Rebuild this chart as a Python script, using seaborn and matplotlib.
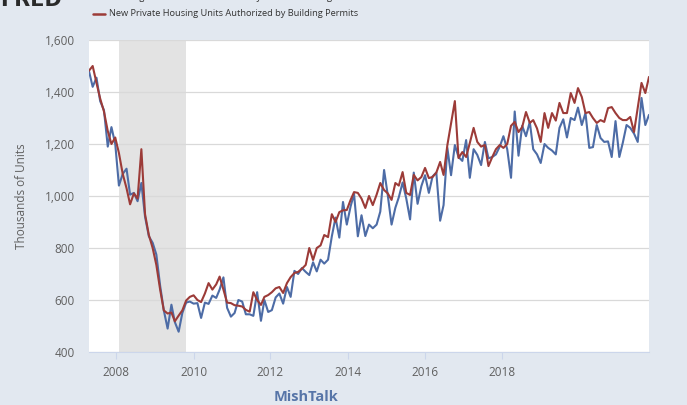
import numpy as np
import pandas as pd
import matplotlib
matplotlib.use('Agg')
import matplotlib.pyplot as plt
import seaborn as sns
from matplotlib.lines import Line2D
from matplotlib.ticker import FuncFormatter

# Monthly values, thousands of units, Apr 2007 .. Oct 2019
first_month = '2007-04-01'
last_month = '2019-10-01'

housing_starts = [
    1480, 1420, 1455, 1365, 1330, 1190, 1265, 1200, 1040,                  # 2007 Apr-Dec
    1085, 1105, 1005, 1012, 980, 1050, 920, 845, 820, 775, 655, 560,       # 2008
    490, 582, 515, 478, 550, 590, 594, 586, 588, 531, 590, 585,            # 2009
    617, 608, 640, 687, 570, 536, 550, 600, 594, 545, 545, 539,            # 2010
    630, 520, 600, 554, 561, 610, 625, 586, 650, 612, 712, 700,            # 2011
    723, 708, 696, 745, 710, 755, 740, 755, 845, 917, 840, 977,            # 2012
    890, 960, 1008, 845, 926, 846, 890, 876, 890, 940, 1100, 1003,         # 2013
    890, 955, 995, 1052, 990, 910, 1090, 970, 1038, 1080, 1012, 1075,      # 2014
    1090, 905, 965, 1185, 1080, 1196, 1150, 1135, 1215, 1070, 1180, 1158,  # 2015
    1119, 1208, 1145, 1150, 1160, 1190, 1230, 1180, 1070, 1325, 1155, 1270,  # 2016
    1230, 1285, 1180, 1160, 1127, 1200, 1185, 1175, 1160, 1262, 1295, 1225,  # 2017
    1300, 1292, 1340, 1273, 1319, 1185, 1188, 1273, 1223, 1208, 1210, 1150,  # 2018
    1288, 1150, 1204, 1273, 1262, 1240, 1208, 1377, 1273, 1312,            # 2019 Jan-Oct
]

building_permits = [
    1482, 1500, 1435, 1375, 1325, 1250, 1200, 1225, 1165,                  # 2007 Apr-Dec
    1085, 1030, 968, 1010, 990, 1180, 930, 850, 800, 735, 640, 560,        # 2008
    548, 552, 518, 540, 560, 598, 612, 618, 600, 592, 625, 665,            # 2009
    640, 660, 690, 640, 590, 588, 580, 578, 575, 562, 555, 630,            # 2010
    600, 581, 612, 619, 630, 645, 650, 627, 665, 688, 704, 708,            # 2011
    720, 735, 800, 754, 800, 810, 850, 842, 930, 900, 938, 945,            # 2012
    946, 985, 1015, 1012, 990, 954, 1000, 965, 1005, 1050, 1023, 1010,     # 2013
    985, 1050, 1040, 1092, 1012, 1004, 1081, 1060, 1073, 1108, 1069, 1073,  # 2014
    1090, 1131, 1081, 1196, 1280, 1365, 1146, 1169, 1150, 1204, 1262, 1208,  # 2015
    1190, 1196, 1115, 1150, 1180, 1196, 1185, 1200, 1270, 1285, 1246, 1265,  # 2016
    1323, 1281, 1292, 1260, 1208, 1319, 1262, 1319, 1290, 1358, 1319, 1319,  # 2017
    1396, 1358, 1415, 1381, 1319, 1323, 1300, 1281, 1292, 1285, 1338, 1342,  # 2018
    1319, 1300, 1292, 1292, 1304, 1246, 1340, 1435, 1396, 1458,            # 2019 Jan-Oct
]

series_names = [
    'Housing Starts: Total: New Privately Owned Housing Units Started',
    'New Private Housing Units Authorized by Building Permits',
]
recession = ('2007-12-01', '2009-06-01')
y_ticks = [400, 600, 800, 1000, 1200, 1400, 1600]
x_tick_labels = ['2008', '2010', '2012', '2014', '2016', '2018']
# the year labels sit where the source image puts them (not on Jan 1)
x_tick_dates = ['2007-11-08', '2009-08-05', '2011-04-16', '2013-01-13', '2014-10-01', '2016-06-19']


def main():
    sns.set_theme(style='white')
    plt.rcParams['font.family'] = ['Open Sans', 'DejaVu Sans']

    blue = '#4d6ca6'
    red = '#9c3b38'
    bg = '#e2e8f0'

    dates = pd.date_range(first_month, last_month, freq='MS')
    df = pd.DataFrame({'date': dates,
                       series_names[0]: housing_starts,
                       series_names[1]: building_permits})
    df = df.melt(id_vars='date', var_name='series', value_name='value')

    W, H = 687, 405
    fig = plt.figure(figsize=(W / 100, H / 100), dpi=100, facecolor=bg)
    ax = fig.add_axes([89 / W, 1 - 352 / H, 560 / W, 312 / H])
    ax.set_facecolor('white')

    ax.axvspan(pd.Timestamp(recession[0]), pd.Timestamp(recession[1]),
               color='#e3e3e3', lw=0, zorder=0)

    sns.lineplot(data=df, x='date', y='value', hue='series',
                 palette=[blue, red], linewidth=1.5, ax=ax, legend=False)

    ax.set_xlim(dates[0], dates[-1])
    ax.set_ylim(400, 1600)
    ax.set_yticks(y_ticks)
    ax.yaxis.set_major_formatter(FuncFormatter(lambda v, p: f'{v:,.0f}'))
    ax.set_xticks(pd.to_datetime(x_tick_dates))
    ax.set_xticklabels(x_tick_labels)
    ax.set_xlabel('')
    ax.set_ylabel('')

    ax.yaxis.grid(True, color='#d9d9d9', lw=0.9)
    ax.xaxis.grid(False)
    for side in ['top', 'right', 'left']:
        ax.spines[side].set_visible(False)
    ax.spines['bottom'].set_color('#ccd6eb')
    ax.spines['bottom'].set_linewidth(0.8)
    ax.tick_params(axis='y', length=0, pad=10, labelsize=8.5, labelcolor='#606060')
    ax.tick_params(axis='x', length=5, width=0.8, color='#ccd6eb', pad=5,
                   labelsize=8.5, labelcolor='#606060', bottom=True)

    fig.text(22 / W, 1 - 196 / H, 'Thousands of Units', rotation=90,
             ha='center', va='center', fontsize=8.5, color='#606060')

    # legend at the top, first row cut by the image edge
    rows_y = [-2, 13.5]
    for name, col, ry in zip(series_names, [blue, red], rows_y):
        y = 1 - ry / H
        fig.add_artist(Line2D([93 / W, 105 / W], [y, y], color=col, lw=1.8))
        fig.text(109 / W, y, name, ha='left', va='center', fontsize=6.7, color='#333333')

    # FRED logo, mostly cut off at the top
    fig.text(0, 1 - 6 / H, 'FRED', ha='left', va='baseline', fontsize=15,
             fontweight='bold', color='#2a2a2a', family=['DejaVu Sans'])

    fig.text(306 / W, 1 - 397 / H, 'MishTalk', ha='center', va='center',
             fontsize=10.5, fontweight='bold', color='#5775a8')

    fig.savefig('out.png', dpi=100, facecolor=bg)
    plt.close(fig)


if __name__ == '__main__':
    main()
